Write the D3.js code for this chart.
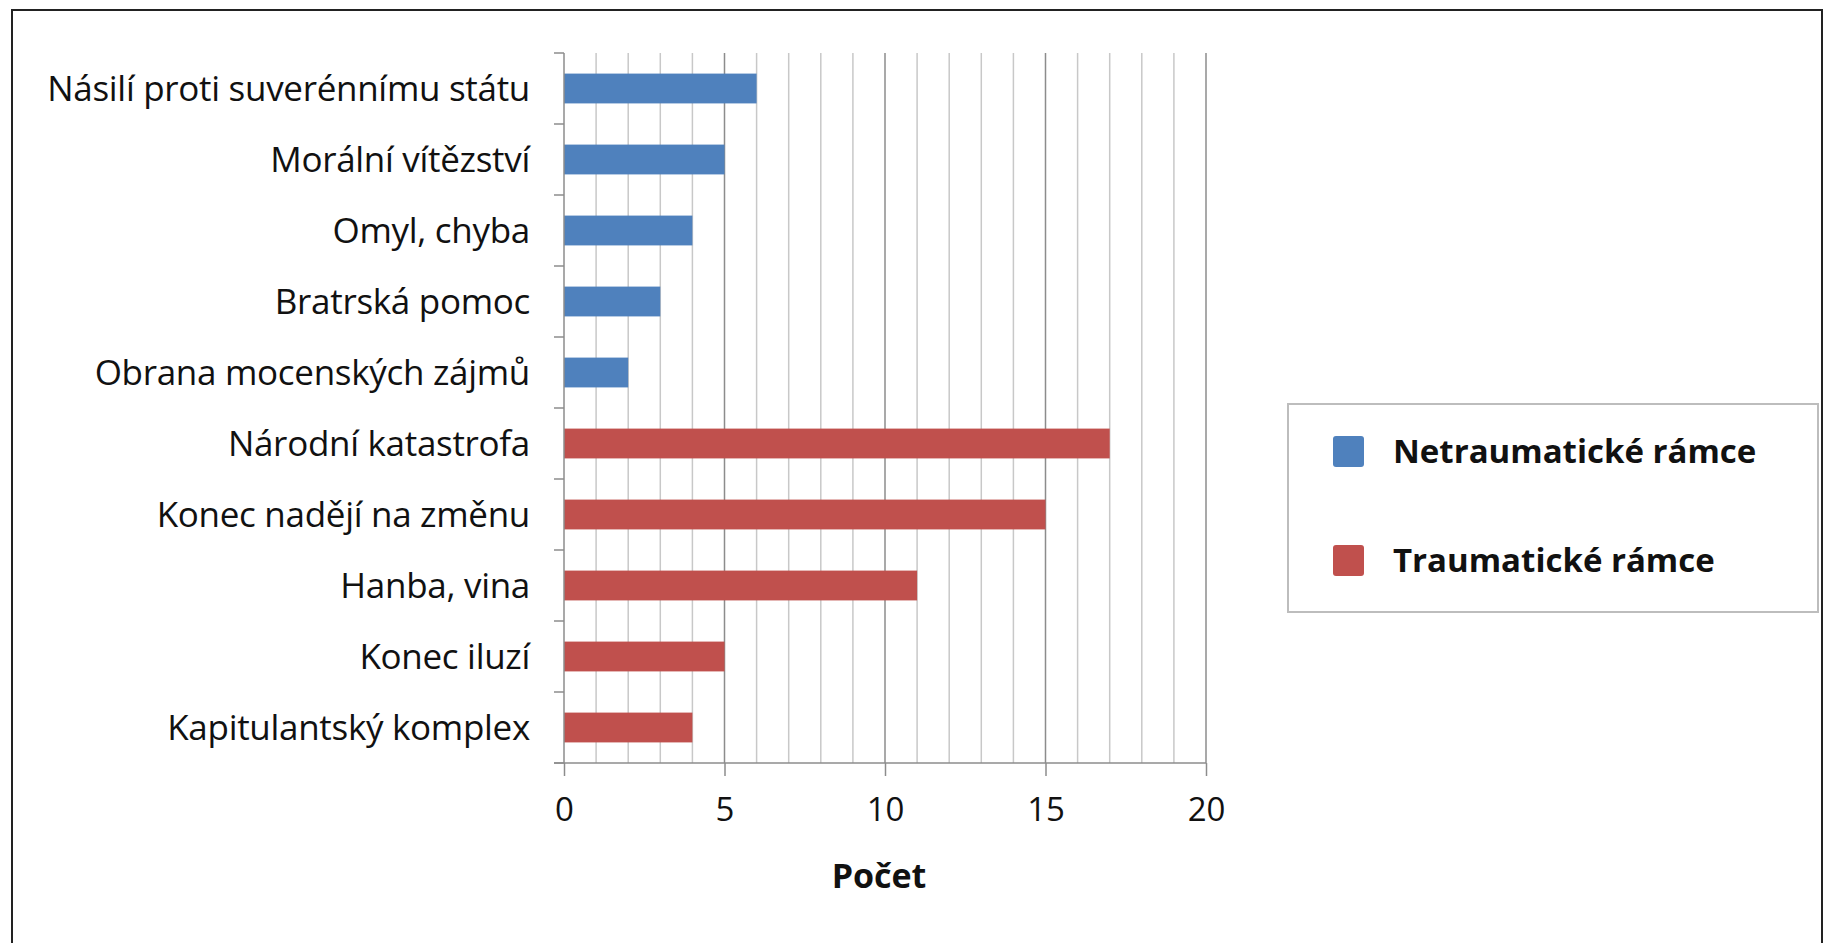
<!DOCTYPE html>
<html><head><meta charset="utf-8">
<script src="https://cdn.jsdelivr.net/npm/d3@7"></script>
<style>body{margin:0;background:#fff}svg{display:block}</style>
</head><body>
<script>
const categories = ["Násilí proti suverénnímu státu","Morální vítězství","Omyl, chyba","Bratrská pomoc","Obrana mocenských zájmů","Národní katastrofa","Konec nadějí na změnu","Hanba, vina","Konec iluzí","Kapitulantský komplex"];
const seriesNames = ["Netraumatické rámce","Traumatické rámce"];
const seriesOf = [0,0,0,0,0,1,1,1,1,1];
const values = [6,5,4,3,2,17,15,11,5,4];
const xTicks = [0,5,10,15,20];
const colors = ["#4F81BD","#C0504D"];
const axisTitle = "Počet";

const W=1836,H=943;
const font="'Open Sans', sans-serif";
const svg=d3.select("body").append("svg").attr("width",W).attr("height",H);
svg.append("rect").attr("x",12).attr("y",10).attr("width",1810).attr("height",940).attr("fill","#fff").attr("stroke","#222").attr("stroke-width",2);

const L=564,R=1206,T=53,B=763;
const x=d3.scaleLinear().domain([0,20]).range([L,R]);
const y=d3.scaleBand().domain(categories).range([T,B]).paddingInner(0.58).paddingOuter(0.29);
const yb=d3.scaleBand().domain(categories).range([T,B]);

const g=svg.append("g");
g.selectAll("line.minor").data(d3.range(1,21)).join("line")
 .attr("x1",d=>x(d)).attr("x2",d=>x(d)).attr("y1",T).attr("y2",B)
 .attr("stroke",d=>d%5===0?"#8c8c8c":"#c8c8c8").attr("stroke-width",1.5);
g.selectAll("rect.bar").data(categories).join("rect")
 .attr("x",x(0)).attr("y",d=>y(d)).attr("height",y.bandwidth())
 .attr("width",(d,i)=>x(values[i])-x(0)).attr("fill",(d,i)=>colors[seriesOf[i]]);

const xa=svg.append("g").attr("transform",`translate(0,${B})`)
 .call(d3.axisBottom(x).tickValues(xTicks).tickSize(13).tickPadding(22));
xa.select(".domain").attr("stroke","#8c8c8c").attr("stroke-width",1.5).attr("d",`M${L-10},0H${R}`);
xa.selectAll(".tick line").attr("stroke","#8c8c8c").attr("stroke-width",1.5);
xa.selectAll("text").attr("font-family",font).attr("font-size",33).attr("fill","#111");

const ya=svg.append("g").attr("transform",`translate(${L},0)`);
ya.append("line").attr("x1",0).attr("x2",0).attr("y1",T).attr("y2",B).attr("stroke","#8c8c8c").attr("stroke-width",1.5);
ya.selectAll("line.tk").data(categories.concat([null])).join("line")
 .attr("x1",-10).attr("x2",0)
 .attr("y1",(d,i)=>T+i*yb.step()).attr("y2",(d,i)=>T+i*yb.step())
 .attr("stroke","#8c8c8c").attr("stroke-width",1.5);
ya.selectAll("text").data(categories).join("text")
 .attr("x",-34).attr("y",d=>yb(d)+yb.bandwidth()/2).attr("dy","0.35em")
 .attr("text-anchor","end").attr("font-family",font).attr("font-size",35).attr("fill","#111")
 .attr("letter-spacing",-0.3)
 .text(d=>d);

svg.append("text").attr("x",(L+R)/2-6).attr("y",876).attr("dy","0.35em").attr("text-anchor","middle")
 .attr("font-family",font).attr("font-weight","bold").attr("font-size",34).attr("fill","#111").text(axisTitle);

const lg=svg.append("g");
lg.append("rect").attr("x",1288).attr("y",404).attr("width",530).attr("height",208).attr("fill","#fff").attr("stroke","#bdbdbd").attr("stroke-width",2);
seriesNames.forEach((s,i)=>{
  const cy=451+i*109;
  lg.append("rect").attr("x",1333).attr("y",cy-15).attr("width",31).attr("height",31).attr("rx",3).attr("fill",colors[i]);
  lg.append("text").attr("x",1393).attr("y",cy).attr("dy","0.35em").attr("font-family",font).attr("font-weight","bold").attr("font-size",33).attr("fill","#111").text(s);
});
</script>
</body></html>
